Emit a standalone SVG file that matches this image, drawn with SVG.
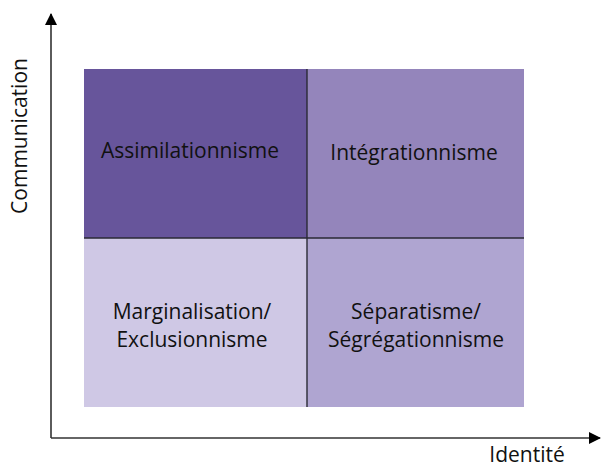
<svg xmlns="http://www.w3.org/2000/svg" width="601" height="468" viewBox="0 0 601 468">
<style>
.lbl{font-family:"Open Sans","Liberation Sans",sans-serif;font-size:21px;fill:#111;text-anchor:middle}
.ax{stroke:#333;stroke-width:1.6;fill:none}
.div{stroke:#2a2a35;stroke-width:1.4}
</style>
<defs>
<marker id="arr" viewBox="0 0 12 12" refX="11" refY="6" markerWidth="12" markerHeight="12" markerUnits="userSpaceOnUse" orient="auto">
<path d="M0,0 L12,6 L0,12 Z" fill="#000"/>
</marker>
</defs>
<rect width="601" height="468" fill="#fff"/>
<g id="q-assimilation"><rect x="84" y="69" width="223" height="169" fill="#67559b"/><text class="lbl" x="190" y="158">Assimilationnisme</text></g>
<g id="q-integration"><rect x="307" y="69" width="217" height="169" fill="#9485bb"/><text class="lbl" x="414" y="160">Intégrationnisme</text></g>
<g id="q-marginalisation"><rect x="84" y="238" width="223" height="169" fill="#cfc8e5"/><text class="lbl" x="192" y="319">Marginalisation/</text><text class="lbl" x="192" y="347">Exclusionnisme</text></g>
<g id="q-separatisme"><rect x="307" y="238" width="217" height="169" fill="#afa5d1"/><text class="lbl" x="416" y="319">Séparatisme/</text><text class="lbl" x="416" y="347">Ségrégationnisme</text></g>
<g id="connectors">
<line class="div" x1="307" y1="69" x2="307" y2="407"/>
<line class="div" x1="84" y1="238" x2="524" y2="238"/>
<path class="ax" d="M51,438 V14" marker-end="url(#arr)"/>
<path class="ax" d="M51,438 H600" marker-end="url(#arr)"/>
</g>
<text class="lbl" transform="translate(27,136) rotate(-90)">Communication</text>
<text class="lbl" x="527" y="462">Identité</text>
</svg>
